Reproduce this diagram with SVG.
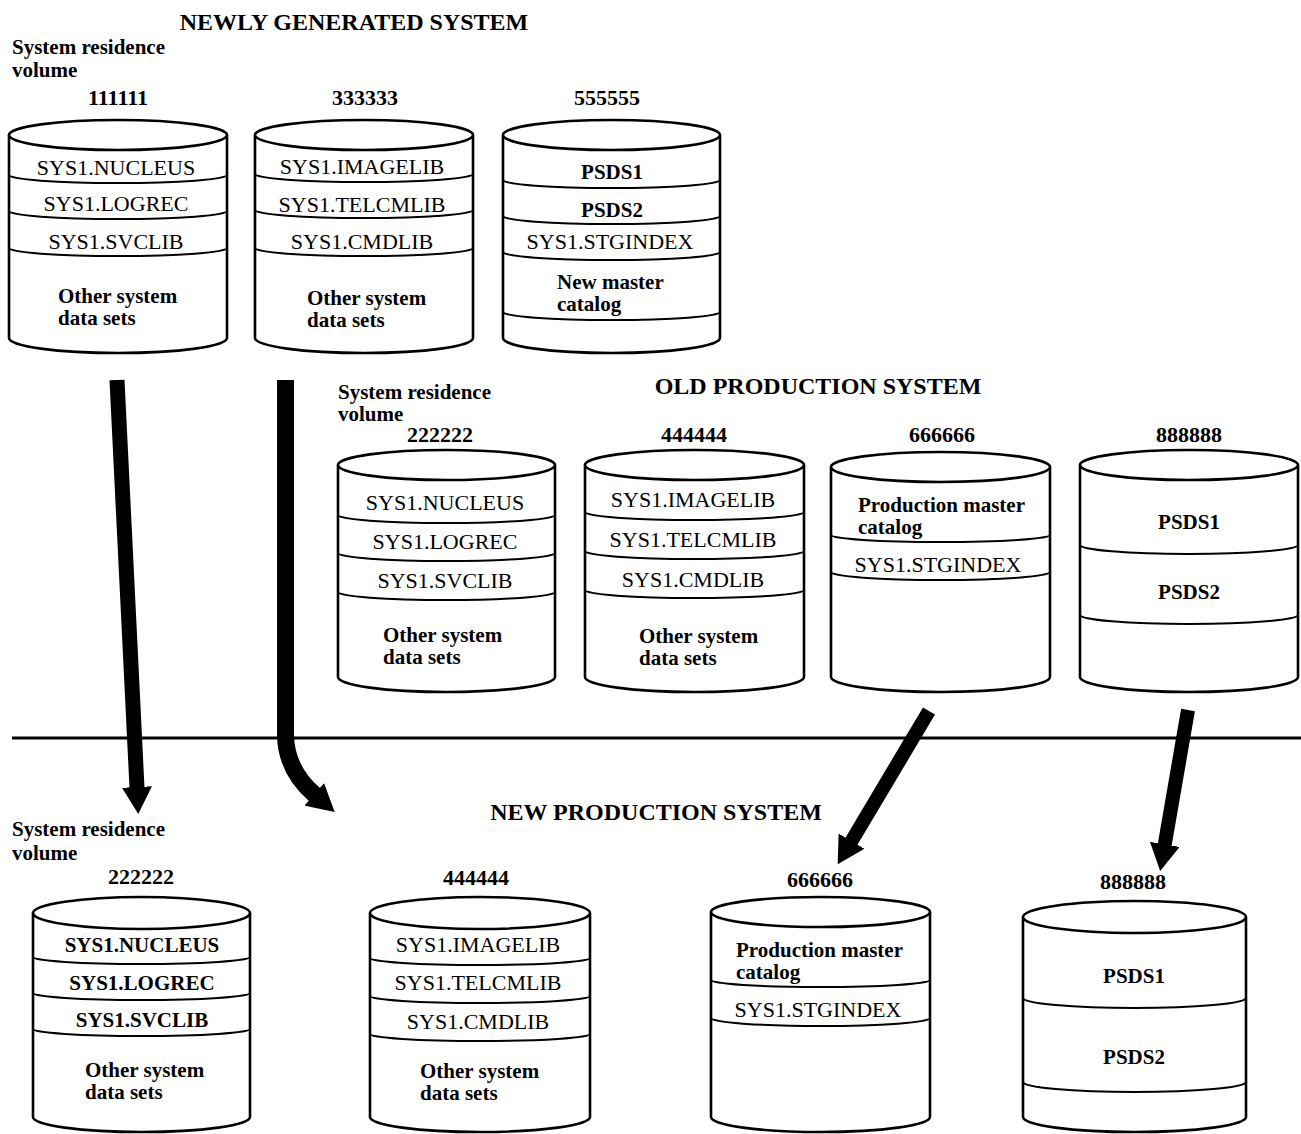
<svg xmlns="http://www.w3.org/2000/svg" width="1301" height="1134" viewBox="0 0 1301 1134">
<style>
.cyl{fill:#fff;stroke:#000;stroke-width:2.6}
.band{fill:none;stroke:#000;stroke-width:2}
text{font-family:"Liberation Serif","Times New Roman",serif;fill:#000}
.t{font-size:22px}
.tb{font-size:21px;font-weight:bold}
.b{font-size:21px;font-weight:bold}
.n{font-size:22px;font-weight:bold;text-anchor:middle}
.h{font-size:24px;font-weight:bold;text-anchor:middle}
.c{text-anchor:middle}
.shaft{fill:none;stroke:#000;stroke-linecap:butt}
</style>
<defs>
<marker id="head" markerUnits="userSpaceOnUse" viewBox="0 0 27 30" markerWidth="27" markerHeight="30" refX="1" refY="15" orient="auto">
<path d="M0,0 L27,15 L0,30 z" fill="#000"/>
</marker>
</defs>
<rect width="1301" height="1134" fill="#fff"/>

<!-- titles -->
<text class="h" x="354" y="30">NEWLY GENERATED SYSTEM</text>
<text class="b" x="12" y="54">System residence</text>
<text class="b" x="12" y="77">volume</text>
<text class="h" x="818" y="394">OLD PRODUCTION SYSTEM</text>
<text class="b" x="338" y="399">System residence</text>
<text class="b" x="338" y="421">volume</text>
<text class="h" x="656" y="820">NEW PRODUCTION SYSTEM</text>
<text class="b" x="12" y="836">System residence</text>
<text class="b" x="12" y="860">volume</text>

<line x1="12" y1="738" x2="1301" y2="738" stroke="#000" stroke-width="3"/>

<!-- Newly generated system -->
<g id="vol111111">
<text class="n" x="118" y="105">111111</text>
<path class="cyl" d="M9,135 L9,338 A109,15 0 0 0 227,338 L227,135"/>
<ellipse class="cyl" cx="118" cy="135" rx="109" ry="15"/>
<path class="band" d="M9,175 A109,8 0 0 0 227,175 M9,211 A109,8 0 0 0 227,211 M9,248 A109,8 0 0 0 227,248"/>
<text class="t c" x="116" y="175">SYS1.NUCLEUS</text>
<text class="t c" x="116" y="211">SYS1.LOGREC</text>
<text class="t c" x="116" y="249">SYS1.SVCLIB</text>
<text class="tb" x="58" y="303">Other system</text>
<text class="tb" x="58" y="325">data sets</text>
</g>
<g id="vol333333">
<text class="n" x="365" y="105">333333</text>
<path class="cyl" d="M255,135 L255,338 A109,15 0 0 0 473,338 L473,135"/>
<ellipse class="cyl" cx="364" cy="135" rx="109" ry="15"/>
<path class="band" d="M255,174 A109,8 0 0 0 473,174 M255,210 A109,8 0 0 0 473,210 M255,248 A109,8 0 0 0 473,248"/>
<text class="t c" x="362" y="174">SYS1.IMAGELIB</text>
<text class="t c" x="362" y="212">SYS1.TELCMLIB</text>
<text class="t c" x="362" y="249">SYS1.CMDLIB</text>
<text class="tb" x="307" y="305">Other system</text>
<text class="tb" x="307" y="327">data sets</text>
</g>
<g id="vol555555">
<text class="n" x="607" y="105">555555</text>
<path class="cyl" d="M503,135 L503,338 A108.5,15 0 0 0 720,338 L720,135"/>
<ellipse class="cyl" cx="611.5" cy="135" rx="108.5" ry="15"/>
<path class="band" d="M503,180 A108.5,8 0 0 0 720,180 M503,216 A108.5,8 0 0 0 720,216 M503,252 A108.5,8 0 0 0 720,252 M503,312 A108.5,8 0 0 0 720,312"/>
<text class="tb c" x="612" y="179">PSDS1</text>
<text class="tb c" x="612" y="217">PSDS2</text>
<text class="t c" x="610" y="249">SYS1.STGINDEX</text>
<text class="tb" x="557" y="289">New master</text>
<text class="tb" x="557" y="311">catalog</text>
</g>

<!-- Old production system -->
<g id="old222222">
<text class="n" x="440" y="442">222222</text>
<path class="cyl" d="M338,465 L338,677 A108.5,15 0 0 0 555,677 L555,465"/>
<ellipse class="cyl" cx="446.5" cy="465" rx="108.5" ry="15"/>
<path class="band" d="M338,515 A108.5,8 0 0 0 555,515 M338,553 A108.5,8 0 0 0 555,553 M338,592 A108.5,8 0 0 0 555,592"/>
<text class="t c" x="445" y="510">SYS1.NUCLEUS</text>
<text class="t c" x="445" y="549">SYS1.LOGREC</text>
<text class="t c" x="445" y="588">SYS1.SVCLIB</text>
<text class="tb" x="383" y="642">Other system</text>
<text class="tb" x="383" y="664">data sets</text>
</g>
<g id="old444444">
<text class="n" x="694" y="442">444444</text>
<path class="cyl" d="M585,465 L585,677 A109.5,15 0 0 0 804,677 L804,465"/>
<ellipse class="cyl" cx="694.5" cy="465" rx="109.5" ry="15"/>
<path class="band" d="M585,512 A109.5,8 0 0 0 804,512 M585,551 A109.5,8 0 0 0 804,551 M585,590 A109.5,8 0 0 0 804,590"/>
<text class="t c" x="693" y="507">SYS1.IMAGELIB</text>
<text class="t c" x="693" y="547">SYS1.TELCMLIB</text>
<text class="t c" x="693" y="587">SYS1.CMDLIB</text>
<text class="tb" x="639" y="643">Other system</text>
<text class="tb" x="639" y="665">data sets</text>
</g>
<g id="old666666">
<text class="n" x="942" y="442">666666</text>
<path class="cyl" d="M831,467 L831,677 A109.5,15 0 0 0 1050,677 L1050,467"/>
<ellipse class="cyl" cx="940.5" cy="467" rx="109.5" ry="15"/>
<path class="band" d="M831,535 A109.5,7 0 0 0 1050,535 M831,572 A109.5,8 0 0 0 1050,572"/>
<text class="tb" x="858" y="512">Production master</text>
<text class="tb" x="858" y="534">catalog</text>
<text class="t c" x="938" y="572">SYS1.STGINDEX</text>
</g>
<g id="old888888">
<text class="n" x="1189" y="442">888888</text>
<path class="cyl" d="M1080,465 L1080,677 A109,15 0 0 0 1298,677 L1298,465"/>
<ellipse class="cyl" cx="1189" cy="465" rx="109" ry="15"/>
<path class="band" d="M1080,545 A109,9 0 0 0 1298,545 M1080,615 A109,9 0 0 0 1298,615"/>
<text class="tb c" x="1189" y="529">PSDS1</text>
<text class="tb c" x="1189" y="599">PSDS2</text>
</g>

<!-- New production system -->
<g id="new222222">
<text class="n" x="141" y="884">222222</text>
<path class="cyl" d="M33,913 L33,1117 A108.5,15 0 0 0 250,1117 L250,913"/>
<ellipse class="cyl" cx="141.5" cy="913" rx="108.5" ry="16"/>
<path class="band" d="M33,957 A108.5,7 0 0 0 250,957 M33,993 A108.5,7 0 0 0 250,993 M33,1029 A108.5,7 0 0 0 250,1029"/>
<text class="tb c" x="142" y="952">SYS1.NUCLEUS</text>
<text class="tb c" x="142" y="990">SYS1.LOGREC</text>
<text class="tb c" x="142" y="1027">SYS1.SVCLIB</text>
<text class="tb" x="85" y="1077">Other system</text>
<text class="tb" x="85" y="1099">data sets</text>
</g>
<g id="new444444">
<text class="n" x="476" y="885">444444</text>
<path class="cyl" d="M370,913 L370,1117 A110,15 0 0 0 590,1117 L590,913"/>
<ellipse class="cyl" cx="480" cy="913" rx="110" ry="16"/>
<path class="band" d="M370,958 A110,7 0 0 0 590,958 M370,996 A110,7 0 0 0 590,996 M370,1034 A110,7 0 0 0 590,1034"/>
<text class="t c" x="478" y="952">SYS1.IMAGELIB</text>
<text class="t c" x="478" y="990">SYS1.TELCMLIB</text>
<text class="t c" x="478" y="1029">SYS1.CMDLIB</text>
<text class="tb" x="420" y="1078">Other system</text>
<text class="tb" x="420" y="1100">data sets</text>
</g>
<g id="new666666">
<text class="n" x="820" y="887">666666</text>
<path class="cyl" d="M711,912 L711,1117 A109.5,15 0 0 0 930,1117 L930,912"/>
<ellipse class="cyl" cx="820.5" cy="912" rx="109.5" ry="15"/>
<path class="band" d="M711,980 A109.5,7 0 0 0 930,980 M711,1018 A109.5,8 0 0 0 930,1018"/>
<text class="tb" x="736" y="957">Production master</text>
<text class="tb" x="736" y="979">catalog</text>
<text class="t c" x="818" y="1017">SYS1.STGINDEX</text>
</g>
<g id="new888888">
<text class="n" x="1133" y="889">888888</text>
<path class="cyl" d="M1023,917 L1023,1117 A111.5,15 0 0 0 1246,1117 L1246,917"/>
<ellipse class="cyl" cx="1134.5" cy="917" rx="111.5" ry="16"/>
<path class="band" d="M1023,998 A111.5,10 0 0 0 1246,998 M1023,1082 A111.5,10 0 0 0 1246,1082"/>
<text class="tb c" x="1134" y="983">PSDS1</text>
<text class="tb c" x="1134" y="1064">PSDS2</text>
</g>

<!-- connectors -->
<g id="connectors">
<path class="shaft" stroke-width="15" d="M117,380 L137,788" marker-end="url(#head)"/>
<path class="shaft" stroke-width="17" d="M285.5,380 L285.5,735 Q286,770 315,795" marker-end="url(#head)"/>
<path class="shaft" stroke-width="14" d="M929,711 L851,842" marker-end="url(#head)"/>
<path class="shaft" stroke-width="14" d="M1188,710 L1164.6,845.4" marker-end="url(#head)"/>
</g>
</svg>
